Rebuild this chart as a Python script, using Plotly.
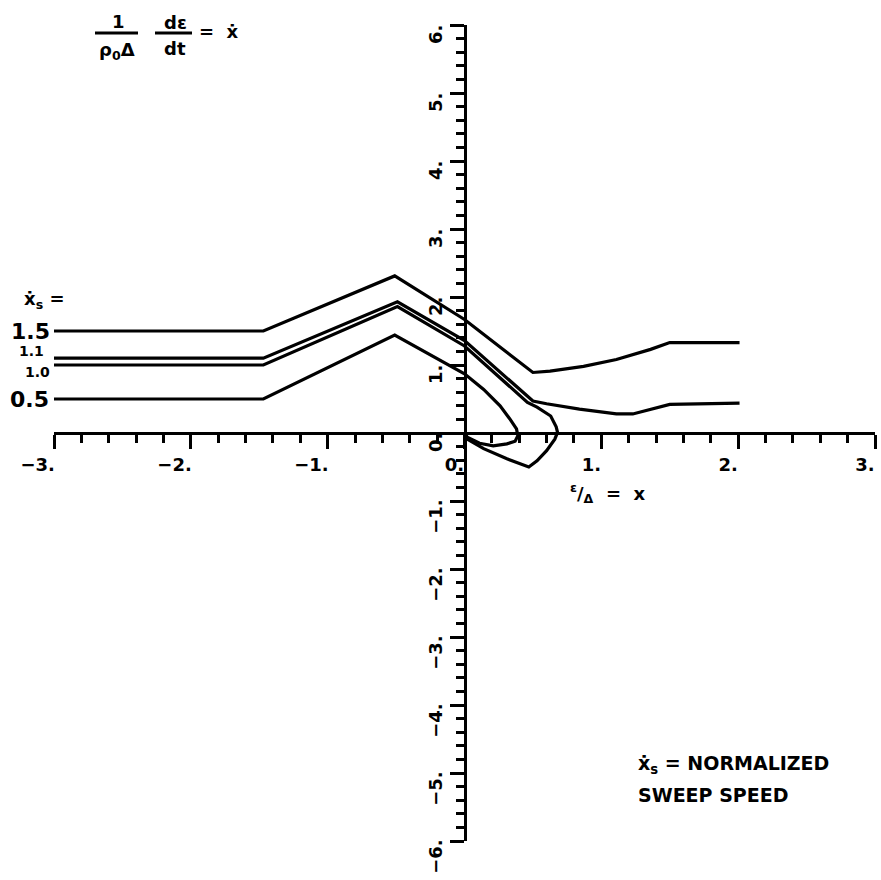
import plotly.graph_objects as go

# Sweep-speed trajectories in the (x, x-dot) phase plane
sweep_labels = ["1.5", "1.1", "1.0", "0.5"]

x_15 = [-3.0, -1.47, -0.51, 0.0, 0.50, 0.625, 0.87, 1.11, 1.36, 1.50, 2.01]
y_15 = [1.50, 1.50, 2.31, 1.67, 0.89, 0.91, 0.98, 1.08, 1.23, 1.33, 1.33]

x_11 = [-3.0, -1.47, -0.49, 0.0, 0.50, 0.60, 0.84, 1.11, 1.23, 1.36, 1.50, 2.01]
y_11 = [1.10, 1.10, 1.93, 1.36, 0.47, 0.43, 0.35, 0.28, 0.28, 0.35, 0.42, 0.44]

x_10 = [-3.0, -1.47, -0.49, 0.0, 0.46, 0.53, 0.63, 0.67, 0.68, 0.66, 0.60, 0.53, 0.47,
        0.31, 0.14, 0.02, 0.0]
y_10 = [1.00, 1.00, 1.86, 1.28, 0.45, 0.38, 0.25, 0.09, 0.01, -0.09, -0.26, -0.41, -0.50,
        -0.38, -0.23, -0.09, 0.0]

x_05 = [-3.0, -1.47, -0.51, 0.0, 0.14, 0.26, 0.33, 0.38, 0.39, 0.37, 0.31, 0.21, 0.11,
        0.02, 0.0]
y_05 = [0.50, 0.50, 1.44, 0.87, 0.64, 0.40, 0.21, 0.06, -0.04, -0.12, -0.16, -0.19, -0.15,
        -0.06, 0.0]

x_tickvals = [-3, -2, -1, 0, 1, 2, 3]
x_ticktext = ["\u22123.", "\u22122.", "\u22121.", "0.", "1.", "2.", "3."]
y_tickvals = [-6, -5, -4, -3, -2, -1, 0, 1, 2, 3, 4, 5, 6]
y_ticktext = ["\u22126.", "\u22125.", "\u22124.", "\u22123.", "\u22122.", "\u22121.", "0.",
              "1.", "2.", "3.", "4.", "5.", "6."]

W, H = 881, 880
ML, MR, MT, MB = 54, 6, 25, 36
FONT = "DejaVu Sans"
INK = "black"


def pad(labels):
    # trailing no-break spaces keep the visible label ending at its tick
    return [t + "\u00a0\u00a0" if t.startswith("\u2212") else t for t in labels]


def paper_x(px):
    return (px - ML) / (W - ML - MR)


def paper_y(py):
    return (H - MB - py) / (H - MT - MB)


fig = go.Figure()
for xs, ys in [(x_15, y_15), (x_11, y_11), (x_10, y_10), (x_05, y_05)]:
    fig.add_trace(go.Scatter(x=xs, y=ys, mode="lines",
                             line=dict(color=INK, width=3.2), showlegend=False,
                             hoverinfo="skip", cliponaxis=False))

axis_common = dict(
    showgrid=False, zeroline=False, showline=True, linecolor=INK, linewidth=3,
    anchor="free", position=0.5, ticks="outside", ticklen=14, tickwidth=2.5,
    tickcolor=INK, tickfont=dict(family=FONT, size=18, color=INK, weight="bold"),
    minor=dict(dtick=0.2, ticks="outside", ticklen=8, tickwidth=2.5, tickcolor=INK),
)

fig.update_xaxes(range=[-3, 3], tickvals=x_tickvals, ticktext=pad(x_ticktext),
                 tickangle=0, ticklabelshift=-10, **axis_common)
fig.update_yaxes(range=[-6, 6], tickvals=y_tickvals, ticktext=pad(y_ticktext),
                 tickangle=-90, ticklabelshift=12, **axis_common)


def label(text, px, py, size=18, xanchor="center", yanchor="middle"):
    fig.add_annotation(text=text, x=paper_x(px), y=paper_y(py), xref="paper", yref="paper",
                       showarrow=False, xanchor=xanchor, yanchor=yanchor,
                       font=dict(family=FONT, size=size, color=INK, weight="bold"))


# sweep-speed labels at the left end of each curve
label("\u1e8b<sub>s</sub> =", 22, 301, size=18, xanchor="left")
label(sweep_labels[0], 52, 333, size=22, xanchor="right")
label(sweep_labels[1], 46, 352, size=14, xanchor="right")
label(sweep_labels[2], 52, 373, size=14, xanchor="right")
label(sweep_labels[3], 51, 401, size=22, xanchor="right")

# vertical axis quantity
label("1", 118, 21, size=18)
label("\u03c1<sub>0</sub>\u0394", 117, 51, size=18)
label("d\u03b5", 175, 22, size=18)
label("dt", 175, 49, size=18)
label("=  \u1e8b", 219, 32, size=18)
for x0, x1 in [(95, 138), (155, 192)]:
    fig.add_shape(type="line", xref="paper", yref="paper", x0=paper_x(x0), x1=paper_x(x1),
                  y0=paper_y(33), y1=paper_y(33), line=dict(color=INK, width=3))

# horizontal axis quantity
label("<sup>\u03b5</sup>/<sub>\u0394</sub>  =  x", 607, 495, size=18)

# key
label("\u1e8b<sub>s</sub> = NORMALIZED", 636, 767, size=19, xanchor="left")
label("SWEEP SPEED", 636, 798, size=19, xanchor="left")

fig.update_layout(width=W, height=H, margin=dict(l=ML, r=MR, t=MT, b=MB),
                  plot_bgcolor="white", paper_bgcolor="white")

fig.write_html("out.html")
